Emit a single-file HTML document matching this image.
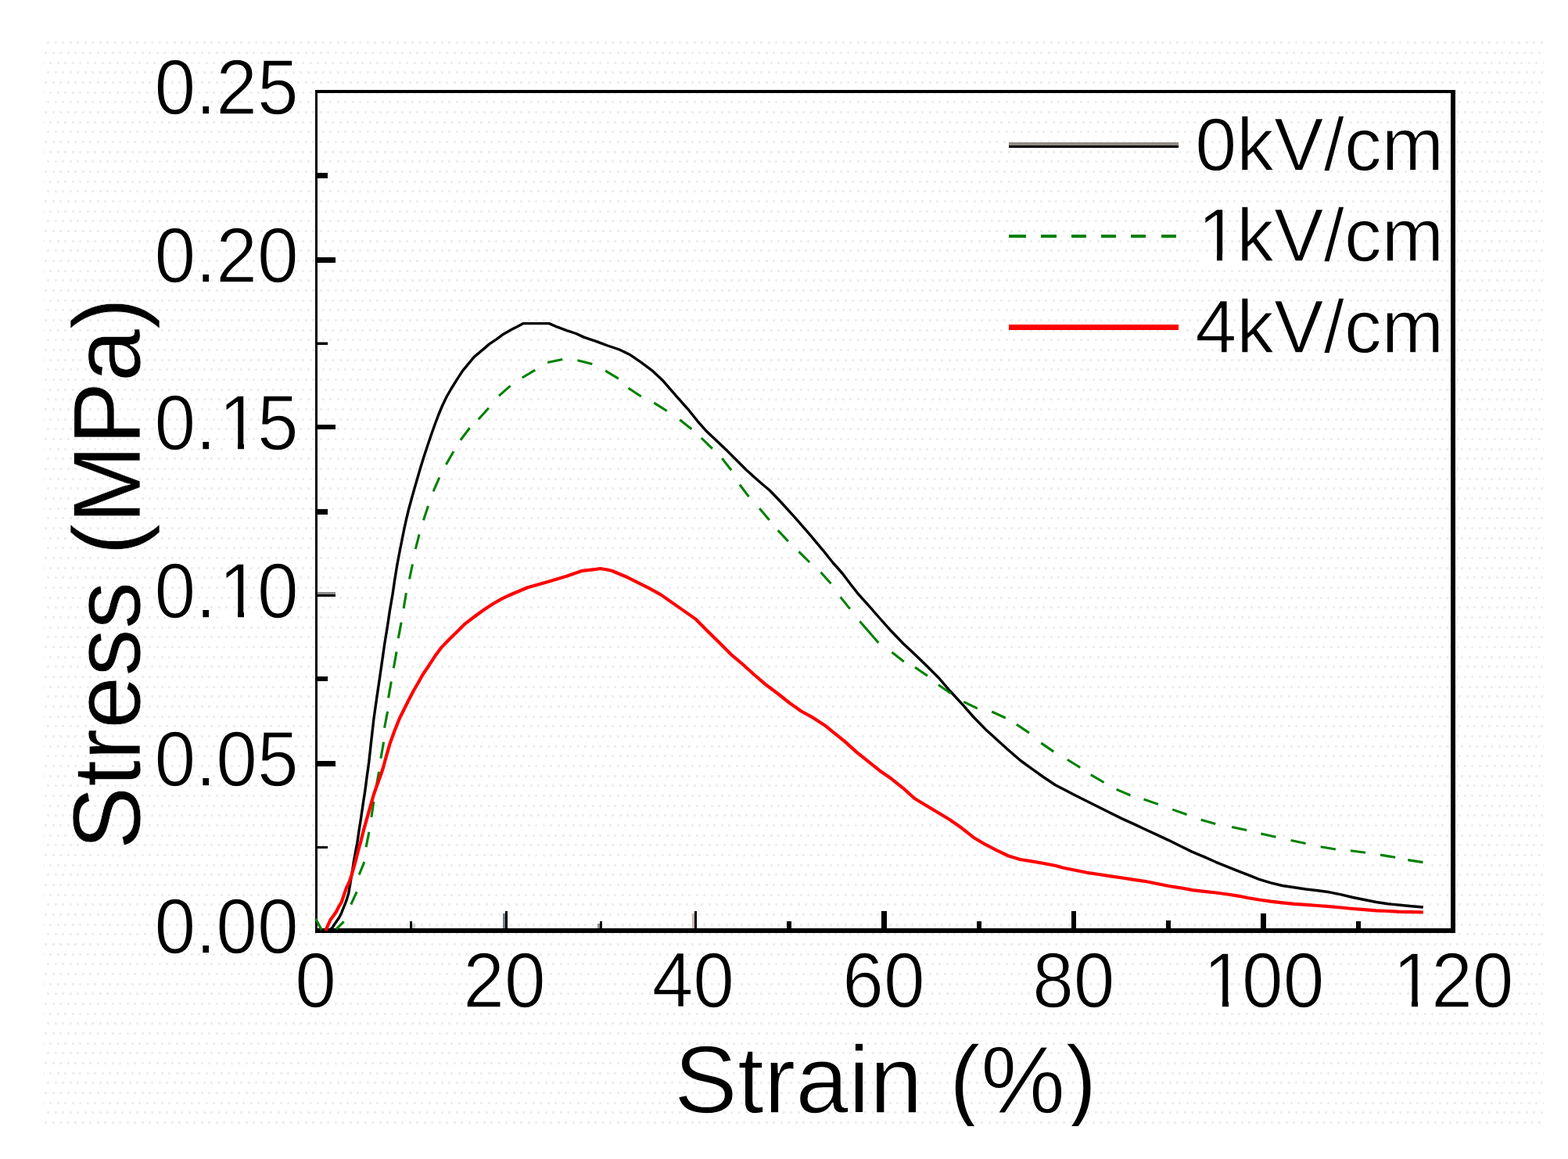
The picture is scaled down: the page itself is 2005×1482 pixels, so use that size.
<!DOCTYPE html>
<html lang="en"><head><meta charset="utf-8"><title>Stress vs Strain</title>
<style>
html,body{margin:0;padding:0;background:#fff;overflow:hidden;}
body{width:2005px;height:1482px;overflow:hidden;}
svg{display:block;}
text{font-family:"Liberation Sans",sans-serif;fill:#000;stroke:#fff;stroke-linejoin:round;paint-order:fill stroke;}
.tk{font-size:94.7px;stroke-width:1.3px;}
.ti{font-size:121px;stroke-width:0.6px;}
.tx{font-size:121.7px;stroke-width:1.5px;}
.lg{font-size:95.4px;stroke-width:1.3px;}
</style></head><body>
<svg width="2005" height="1482" viewBox="0 0 2005 1482" role="img" aria-label="Stress versus strain curves at 0, 1 and 4 kV/cm">
<defs>
<pattern id="dots" x="57" y="52" width="19" height="38" patternUnits="userSpaceOnUse">
<path fill="#eeeeee" shape-rendering="crispEdges" d="M13 1h3v3h-3zM3 1h3v3h-3zM0 14h3v3h-3zM10 14h3v3h-3zM6 27h3v3h-3zM16 27h3v3h-3z"/>
</pattern>
<clipPath id="img"><rect x="55" y="50" width="1920" height="1390"/></clipPath>
</defs>
<rect x="0" y="0" width="2005" height="1482" fill="#ffffff"/>
<rect x="56" y="52" width="1918" height="1388" fill="url(#dots)"/>
<g clip-path="url(#img)">
<g fill="#000" shape-rendering="crispEdges">
<rect x="403" y="115.3" width="3" height="1078"/>
<rect x="403" y="115.3" width="1457.8" height="3.7"/>
<rect x="1854.8" y="115.3" width="6" height="1078"/>
<rect x="403" y="1187" width="1457.8" height="6.3"/>
<rect x="406" y="220.7" width="12.9" height="6.8"/>
<rect x="406" y="328.9" width="22.6" height="6.8"/>
<rect x="406" y="436.7" width="12.9" height="1.3" fill="#8c8c8c"/>
<rect x="406" y="438" width="12.9" height="3.2"/>
<rect x="406" y="542.7" width="22.6" height="6.4"/>
<rect x="406" y="651.3" width="12.9" height="6.7"/>
<rect x="406" y="756.6" width="22.6" height="3.3" fill="#8c8c8c"/>
<rect x="406" y="759.9" width="22.6" height="3"/>
<rect x="406" y="864.7" width="12.9" height="6.5"/>
<rect x="406" y="973.4" width="22.6" height="6.3"/>
<rect x="406" y="1081.7" width="12.9" height="3.6"/>
<rect x="527.3" y="1180.7" width="3.3" height="6.3" fill="#c9cfd0"/>
<rect x="524.2" y="1177.7" width="3.1" height="9.3"/>
<rect x="642.5" y="1168.4" width="3" height="18.6" fill="#6f7f86"/>
<rect x="645.5" y="1165.4" width="3" height="21.6"/>
<rect x="763.8" y="1180.7" width="3" height="6.3" fill="#8c9090"/>
<rect x="766.8" y="1177.7" width="3" height="9.3"/>
<rect x="884.8" y="1168.4" width="3" height="18.6" fill="#c4b9b2"/>
<rect x="887.8" y="1165.4" width="3.3" height="21.6"/>
<rect x="1006.1" y="1177.7" width="6.3" height="9.3"/>
<rect x="1127.2" y="1165.4" width="6.4" height="21.6"/>
<rect x="1248.5" y="1177.7" width="6.4" height="9.3"/>
<rect x="1369.9" y="1165.4" width="6.1" height="21.6"/>
<rect x="1491.4" y="1177.4" width="5.8" height="9.6"/>
<rect x="1612.3" y="1167.6" width="6.2" height="19.4"/>
<rect x="1733.5" y="1177.5" width="6.5" height="9.5"/>
</g>
<g fill="none" stroke-linejoin="round" stroke-linecap="butt">
<path d="M420.0 1190.0 L424.7 1186.7 L428.5 1180.7 L433.7 1173.2 L436.7 1167.2 L439.7 1159.7 L442.7 1152.2 L445.7 1142.5 L447.6 1131.3 L450.6 1113.3 L452.4 1101.3 L455.4 1084.8 L456.9 1077.3 L459.2 1060.9 L461.4 1047.4 L462.9 1036.9 L465.1 1021.9 L466.6 1012.9 L468.9 995.0 L471.7 975.0 L474.9 946.0 L477.9 919.5 L481.6 893.5 L485.2 869.0 L488.6 845.5 L491.8 823.0 L495.2 802.5 L498.4 781.0 L502.0 760.0 L504.8 741.0 L507.7 723.0 L510.8 706.5 L513.8 691.5 L516.8 676.5 L519.8 662.8 L522.8 650.5 L526.5 637.0 L530.3 623.5 L534.0 610.8 L537.7 598.0 L541.7 585.0 L546.0 572.0 L550.7 558.0 L556.0 543.0 L560.5 531.0 L565.5 519.0 L571.0 507.5 L577.0 497.0 L584.6 484.9 L591.4 474.4 L598.8 465.4 L606.3 456.4 L615.3 448.9 L625.8 439.9 L634.8 433.9 L643.8 427.2 L654.3 421.2 L663.2 416.7 L669.2 413.6 L702.2 413.6 L712.7 418.2 L724.7 422.7 L736.6 426.5 L747.1 431.4 L762.1 436.4 L777.1 442.0 L792.0 447.0 L804.9 453.2 L819.9 463.4 L834.9 474.7 L846.9 485.9 L857.3 497.9 L867.8 509.9 L879.8 523.3 L891.8 538.3 L903.8 551.8 L917.3 564.5 L929.2 575.8 L939.7 586.2 L954.7 601.2 L969.7 614.7 L984.7 627.5 L999.0 642.5 L1014.8 659.8 L1034.3 682.2 L1052.5 703.8 L1065.0 719.5 L1077.0 733.0 L1087.6 747.0 L1097.0 759.0 L1109.9 773.4 L1124.9 790.5 L1139.9 807.3 L1154.8 822.8 L1169.8 836.8 L1184.8 851.3 L1199.8 866.2 L1214.7 883.5 L1229.7 899.7 L1245.0 917.0 L1260.0 932.4 L1274.9 945.9 L1289.9 959.4 L1304.9 972.5 L1319.9 983.3 L1334.8 994.0 L1349.8 1004.0 L1362.0 1010.3 L1374.9 1017.0 L1389.9 1024.6 L1404.9 1032.0 L1419.9 1039.6 L1434.8 1046.9 L1449.8 1053.6 L1464.8 1060.8 L1479.8 1067.6 L1494.7 1074.6 L1509.7 1082.1 L1524.7 1089.4 L1539.7 1095.6 L1554.7 1102.3 L1569.6 1108.3 L1584.6 1114.3 L1597.0 1119.2 L1610.0 1124.3 L1624.9 1128.8 L1639.9 1132.5 L1654.9 1134.8 L1669.9 1137.0 L1684.8 1138.7 L1699.8 1140.8 L1714.8 1143.8 L1729.8 1147.5 L1744.7 1150.5 L1759.7 1153.5 L1774.7 1155.8 L1789.7 1157.3 L1804.7 1158.8 L1819.8 1160.0" stroke="#000000" stroke-width="3.4"/>
<g stroke="#008000" stroke-width="3.1">
<path d="M403.7 1174.7 L411.2 1189.0"/>
<path d="M430.0 1188.2 L439.7 1178.4"/>
<path d="M448.7 1156.7 L456.2 1140.3"/>
<path d="M459.2 1118.5 L465.9 1102.1"/>
<path d="M468.1 1083.3 L471.9 1063.9"/>
<path d="M474.9 1045.1 L477.9 1024.9"/>
<path d="M480.9 1007.0 L484.6 986.7"/>
<path d="M486.9 969.7 L490.6 948.7"/>
<path d="M491.6 930.7 L495.6 909.8"/>
<path d="M496.6 892.5 L500.3 871.6"/>
<path d="M503.3 854.4 L507.1 833.4"/>
<path d="M509.3 816.2 L513.1 795.9"/>
<path d="M516.1 778.0 L519.4 758.3"/>
<path d="M523.5 740.5 L527.5 721.5"/>
<path d="M531.3 702.2 L536.1 683.4"/>
<path d="M541.5 665.3 L547.5 646.9"/>
<path d="M554.1 628.3 L561.9 610.5"/>
<path d="M570.4 594.1 L580.0 577.3"/>
<path d="M588.8 562.7 L600.6 547.3"/>
<path d="M611.7 536.2 L624.9 521.8"/>
<path d="M638.0 506.2 L652.6 493.4"/>
<path d="M667.7 483.0 L684.3 473.2"/>
<path d="M700.2 463.6 L719.2 459.6"/>
<path d="M738.5 460.8 L757.3 465.4"/>
<path d="M774.2 474.2 L790.8 484.2"/>
<path d="M803.6 496.2 L819.8 507.0"/>
<path d="M836.4 515.1 L852.8 525.5"/>
<path d="M869.2 536.8 L884.4 548.8"/>
<path d="M896.8 560.0 L910.8 573.6"/>
<path d="M923.2 586.1 L935.2 601.3"/>
<path d="M945.9 619.7 L957.5 635.1"/>
<path d="M971.1 650.1 L983.7 664.9"/>
<path d="M994.7 678.1 L1007.9 692.3"/>
<path d="M1021.4 705.4 L1035.2 719.0"/>
<path d="M1049.5 731.8 L1062.5 746.2"/>
<path d="M1074.6 763.4 L1086.8 778.6"/>
<path d="M1099.4 794.4 L1123.4 822.1"/>
<path d="M1140.4 834.1 L1155.8 845.9"/>
<path d="M1170.0 853.3 L1186.0 864.3"/>
<path d="M1200.0 875.7 L1216.0 886.7"/>
<path d="M1232.2 897.4 L1249.8 905.8"/>
<path d="M1268.2 910.0 L1285.8 918.0"/>
<path d="M1299.8 926.3 L1316.0 937.1"/>
<path d="M1331.3 950.1 L1347.3 961.1"/>
<path d="M1364.8 971.3 L1381.2 981.5"/>
<path d="M1394.8 990.7 L1411.6 1000.5"/>
<path d="M1427.6 1009.4 L1445.4 1017.0"/>
<path d="M1462.5 1022.0 L1480.9 1028.4"/>
<path d="M1499.2 1035.1 L1517.6 1041.5"/>
<path d="M1535.7 1048.2 L1554.3 1053.4"/>
<path d="M1575.1 1057.4 L1594.1 1061.6"/>
<path d="M1612.4 1066.0 L1631.4 1070.2"/>
<path d="M1650.6 1074.4 L1669.6 1078.4"/>
<path d="M1688.7 1082.8 L1707.9 1086.0"/>
<path d="M1726.9 1087.7 L1746.1 1090.3"/>
<path d="M1765.0 1093.1 L1784.2 1096.3"/>
<path d="M1800.3 1099.6 L1819.5 1102.6"/>
</g>
<path d="M416.5 1190.0 L417.2 1188.0 L422.5 1176.2 L426.9 1170.2 L430.0 1165.7 L433.0 1159.7 L436.7 1153.7 L439.7 1144.7 L442.7 1135.8 L446.4 1128.3 L449.4 1119.3 L452.4 1108.8 L455.4 1098.3 L458.4 1086.3 L461.4 1075.8 L465.1 1060.9 L468.1 1050.4 L471.9 1036.9 L474.9 1026.4 L477.9 1016.0 L481.6 1005.5 L487.6 989.0 L490.3 980.5 L493.6 968.2 L498.8 950.2 L504.8 933.7 L510.8 918.8 L516.8 906.8 L522.8 894.8 L528.8 883.2 L534.8 873.0 L540.8 862.2 L548.3 851.2 L555.8 839.6 L564.7 827.6 L573.7 818.2 L584.2 807.9 L594.7 797.6 L606.7 788.5 L618.7 779.7 L630.6 772.0 L642.6 765.2 L655.0 759.5 L674.6 751.2 L699.5 744.2 L724.5 736.7 L744.7 729.8 L760.0 728.2 L767.6 727.0 L775.0 728.2 L782.2 729.8 L800.0 737.2 L815.0 744.7 L830.0 752.2 L844.9 760.4 L859.9 770.9 L874.9 781.4 L889.9 791.9 L904.8 806.9 L919.8 821.8 L934.8 836.8 L949.8 849.5 L964.7 863.0 L979.7 875.8 L994.7 887.0 L1009.7 899.0 L1024.7 909.5 L1039.6 917.7 L1054.6 927.4 L1065.0 935.9 L1080.0 947.9 L1094.9 961.4 L1109.9 973.4 L1124.9 985.4 L1139.9 995.8 L1154.8 1007.8 L1169.8 1021.3 L1184.8 1030.3 L1199.8 1039.3 L1214.7 1048.3 L1229.7 1058.8 L1244.7 1070.7 L1259.7 1079.7 L1274.7 1087.4 L1289.6 1094.5 L1304.6 1099.0 L1319.6 1101.4 L1334.6 1104.0 L1350.0 1107.0 L1360.0 1109.8 L1374.9 1112.8 L1389.9 1115.8 L1404.9 1118.0 L1419.9 1120.3 L1434.8 1122.5 L1449.8 1124.8 L1464.8 1127.0 L1479.8 1130.0 L1494.7 1133.0 L1509.7 1135.3 L1524.7 1138.1 L1539.7 1139.8 L1554.7 1141.5 L1569.6 1143.5 L1584.6 1145.8 L1595.0 1148.0 L1610.0 1150.5 L1624.9 1152.6 L1639.9 1154.3 L1654.9 1155.8 L1669.9 1156.9 L1684.8 1158.0 L1699.8 1159.1 L1714.8 1160.5 L1729.8 1162.0 L1744.7 1163.2 L1759.7 1164.3 L1774.7 1165.0 L1789.7 1165.8 L1804.7 1166.2 L1819.8 1166.5" stroke="#ff0000" stroke-width="4.2"/>
</g>
<text class="tk" text-anchor="start" transform="translate(197.4 146.0) scale(1 1.056)">0.25</text>
<text class="tk" text-anchor="start" transform="translate(197.4 360.5) scale(1 1.056)">0.20</text>
<text class="tk" text-anchor="start" dx="0 0 3.4 -3.4" transform="translate(197.4 575.0) scale(1 1.056)">0.15</text>
<text class="tk" text-anchor="start" dx="0 0 3.4 -3.4" transform="translate(197.4 789.5) scale(1 1.056)">0.10</text>
<text class="tk" text-anchor="start" transform="translate(197.4 1004.5) scale(1 1.056)">0.05</text>
<text class="tk" text-anchor="start" transform="translate(197.4 1219.0) scale(1 1.056)">0.00</text>
<text class="tk" text-anchor="middle" transform="translate(403.7 1288.0) scale(1 1.056)">0</text>
<text class="tk" text-anchor="middle" transform="translate(645.0 1288.0) scale(1 1.056)">20</text>
<text class="tk" text-anchor="middle" transform="translate(886.3 1288.0) scale(1 1.056)">40</text>
<text class="tk" text-anchor="middle" transform="translate(1130.0 1288.0) scale(1 1.056)">60</text>
<text class="tk" text-anchor="middle" transform="translate(1372.8 1288.0) scale(1 1.056)">80</text>
<text class="tk" text-anchor="middle" dx="3.4 -3.4" transform="translate(1612.6 1288.0) scale(1 1.056)">100</text>
<text class="tk" text-anchor="middle" dx="3.4 -3.4" transform="translate(1854.8 1288.0) scale(1 1.056)">120</text>
<text class="tx" text-anchor="middle" transform="translate(1132.3 1423.3) scale(1 1.01)">Strain (%)</text>
<text class="ti" text-anchor="middle" transform="translate(179.3 733.6) rotate(-90) scale(1 1.005)">Stress (MPa)</text>
<g shape-rendering="crispEdges">
<rect x="1290.2" y="182.4" width="216.7" height="3.2" fill="#8f8a85"/>
<rect x="1290.2" y="185.6" width="216.7" height="3.3" fill="#000"/>
<rect x="1290.2" y="415" width="216.7" height="6.8" fill="#ff0000"/>
<g fill="#008000">
<rect x="1290.2" y="300.4" width="22.2" height="3.3"/>
<rect x="1331.4" y="300.4" width="19.5" height="3.3"/>
<rect x="1369.9" y="300.4" width="19.1" height="3.3"/>
<rect x="1408" y="300.4" width="19.3" height="3.3"/>
<rect x="1446.3" y="300.4" width="19.1" height="3.3"/>
<rect x="1484.6" y="300.4" width="19.4" height="3.3"/>
</g>
</g>
<text class="lg" text-anchor="start" transform="translate(1528.2 217.8) scale(1 1.015)">0kV/cm</text>
<text class="lg" text-anchor="start" dx="3.4 -3.4" transform="translate(1528.2 334.3) scale(1 1.015)">1kV/cm</text>
<text class="lg" text-anchor="start" transform="translate(1528.2 450.8) scale(1 1.015)">4kV/cm</text>
<g fill="#fff">
<rect x="285.5" y="565.5" width="18.5" height="10.5"/>
<rect x="312" y="565.5" width="16.5" height="10.5"/>
<rect x="285.5" y="780.5" width="18.5" height="10.5"/>
<rect x="312" y="780.5" width="16.5" height="10.5"/>
<rect x="1544.5" y="1278.5" width="18.5" height="10.5"/>
<rect x="1571" y="1278.5" width="16.5" height="10.5"/>
<rect x="1787.5" y="1278.5" width="17.5" height="10.5"/>
<rect x="1813" y="1278.5" width="17.5" height="10.5"/>
<rect x="1537.5" y="324.5" width="18.5" height="10.5"/>
<rect x="1563" y="324.5" width="17.5" height="10.5"/>
</g>
</g>
</svg>
</body></html>
